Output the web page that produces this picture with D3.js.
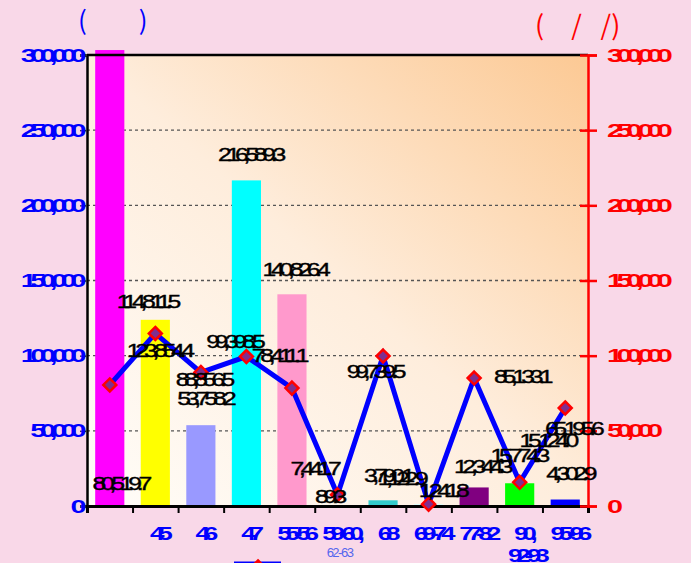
<!DOCTYPE html>
<html>
<head>
<meta charset="utf-8">
<script src="https://cdn.jsdelivr.net/npm/d3@7"></script>
<style>
  html, body { margin: 0; padding: 0; background: #f9d8e8; }
  svg { display: block; }
</style>
</head>
<body>
<svg id="chart" width="691" height="563"></svg>
<script>
// ---- data ----
const categories = ["", "45", "46", "47", "55-56", "59-60,", "68", "69-74", "77-82", "90,", "95-96"];
const categorySubLabels = ["", "", "", "", "", "62-63", "", "", "", "92-93", ""];
const barValues = [303300, 123854.4, 53758.2, 216589.3, 140826.4, 89.3, 3790.1, 1122.9, 12344.3, 15124.0, 4302.9];
const lineValues = [80519.7, 114811.5, 88856.5, 99398.5, 78411.1, 7441.7, 99739.5, 1241.8, 85133.1, 15774.3, 65195.6];
const barColors = ["#ff00ff", "#ffff00", "#9999ff", "#00ffff", "#ff99cc", "#993366", "#33cccc", "#ccffff", "#800080", "#00ff00", "#0000ff"];
const yTickValues = [0, 50000, 100000, 150000, 200000, 250000, 300000];
const leftTitle = "(\u3000\u3000)";
const rightTitle = "(\u3000/\u2002\u2009/)";

// label placement relative to each mark (dx, dy to text baseline); null = no label
const barLabelOffsets = [null, [3, 37], [3.5, -20], [3, -19], [2, -18], [-9, -3], [4, -18], [-28, -19], [7, -14], [27, -36], [4, -20]];
const lineLabelOffsets = [[10, 105], [-9, -25], [2, 14], [-13, -8.5], [-14, -26], [-24, -20], [-9, 22], [13, -7], [47, 5], [-2, -20], [7, 27]];

// ---- layout ----
const plot = { left: 87, right: 588, top: 55, bottom: 506 };
const svg = d3.select("#chart");

const idx = d3.range(categories.length);
const x = d3.scaleBand().domain(idx).range([plot.left, plot.right]).padding(0);
const xEdges = d3.scaleLinear().domain([0, categories.length]).range([plot.left, plot.right]);
const y = d3.scaleLinear().domain([0, 300000]).range([plot.bottom, plot.top]);
const yRight = d3.scaleLinear().domain([0, 300000]).range([plot.bottom, plot.top]);
const cx = i => x(i) + x.bandwidth() / 2;
const fmt = d3.format(",.1f");

// condensed, overlapping digits
function squeezed(g, txt, px, py, o) {
  return g.append("text")
    .attr("transform", `translate(${px},${py}) scale(${o.sx},1)`)
    .attr("text-anchor", o.anchor || "middle")
    .attr("font-family", "Liberation Sans, Arial, sans-serif")
    .attr("font-size", o.size)
    .attr("font-weight", o.weight || "normal")
    .attr("letter-spacing", o.ls)
    .attr("fill", o.fill)
    .text(txt);
}

// ---- plot background ----
const defs = svg.append("defs");
const grad = defs.append("linearGradient").attr("id", "plotBg")
  .attr("x1", 0).attr("y1", 1).attr("x2", 1).attr("y2", 0);
grad.append("stop").attr("offset", "0%").attr("stop-color", "#fffdf9");
grad.append("stop").attr("offset", "50%").attr("stop-color", "#feeddc");
grad.append("stop").attr("offset", "100%").attr("stop-color", "#fcc994");

svg.append("rect")
  .attr("x", plot.left).attr("y", plot.top)
  .attr("width", plot.right - plot.left).attr("height", plot.bottom - plot.top)
  .attr("fill", "url(#plotBg)");

// ---- gridlines ----
svg.append("g").selectAll("line")
  .data(yTickValues.filter(v => v > 0 && v < 300000))
  .join("line")
  .attr("x1", plot.left).attr("x2", plot.right)
  .attr("y1", d => y(d)).attr("y2", d => y(d))
  .attr("stroke", "#555").attr("stroke-width", 1.3)
  .attr("stroke-dasharray", "3,3");

// ---- bars ----
const barW = x.bandwidth() * 0.64;
svg.append("g").selectAll("rect")
  .data(barValues)
  .join("rect")
  .attr("x", (d, i) => cx(i) - barW / 2)
  .attr("width", barW)
  .attr("y", d => y(d))
  .attr("height", d => y(0) - y(d))
  .attr("fill", (d, i) => barColors[i]);

// ---- frame and axes ----
svg.append("line")
  .attr("x1", plot.left).attr("x2", plot.right)
  .attr("y1", plot.top).attr("y2", plot.top)
  .attr("stroke", "#000").attr("stroke-width", 2.5);

const axisText = { sx: 1.6, size: 18, weight: "bold", ls: -4 };

// left axis
const axL = svg.append("g").attr("transform", `translate(${plot.left},0)`)
  .call(d3.axisLeft(y).tickValues(yTickValues).tickSize(7).tickFormat(""));
axL.select(".domain").attr("stroke", "#000").attr("stroke-width", 2.5);
axL.selectAll(".tick line").attr("stroke", "#333").attr("stroke-width", 1.5);
yTickValues.forEach(v => {
  squeezed(svg, d3.format(",")(v), 80, y(v) + 6.5,
    Object.assign({ fill: "#0000ff", anchor: "end" }, axisText));
});

// bottom axis (ticks at category boundaries)
const axB = svg.append("g").attr("transform", `translate(0,${plot.bottom})`)
  .call(d3.axisBottom(xEdges).ticks(categories.length).tickSize(7).tickFormat(""));
axB.select(".domain").attr("stroke", "#000").attr("stroke-width", 3);
axB.selectAll(".tick line").attr("stroke", "#000").attr("stroke-width", 2);

// right axis
const axR = svg.append("g").attr("transform", `translate(${plot.right},0)`)
  .call(d3.axisRight(yRight).tickValues(yTickValues).tickSize(9).tickFormat(""));
axR.select(".domain").attr("stroke", "#ff0000").attr("stroke-width", 2.5);
axR.selectAll(".tick line").attr("x1", -8).attr("stroke", "#ff0000").attr("stroke-width", 2.5);
yTickValues.forEach(v => {
  squeezed(svg, d3.format(",")(v), 607, yRight(v) + 6.5,
    Object.assign({ fill: "#ff0000", anchor: "start" }, axisText));
});

// category labels
const catText = { sx: 1.45, size: 18, weight: "bold", ls: -4.3, fill: "#0000ff" };
categories.forEach((c, i) => {
  if (c) squeezed(svg, c, cx(i) + 3, 540, catText);
});
categorySubLabels.forEach((c, i) => {
  if (!c) return;
  if (i === 5) {
    squeezed(svg, c, cx(i) + 2, 557,
      { sx: 1.0, size: 13, weight: "normal", ls: -1.5, fill: "#5566ee" });
  } else {
    squeezed(svg, c, cx(i) + 6, 562, catText);
  }
});

// ---- line series ----
svg.append("path")
  .datum(lineValues)
  .attr("d", d3.line().x((d, i) => cx(i)).y(d => y(d)))
  .attr("fill", "none")
  .attr("stroke", "#0000ff")
  .attr("stroke-width", 5)
  .attr("stroke-linejoin", "miter");

const diamond = "M0,-6.5L6.5,0L0,6.5L-6.5,0Z";
svg.append("g").selectAll("path")
  .data(lineValues)
  .join("path")
  .attr("d", diamond)
  .attr("transform", (d, i) => `translate(${cx(i)},${y(d)})`)
  .attr("fill", "#7f2f8f")
  .attr("stroke", "#ff0000")
  .attr("stroke-width", 2.5);

// ---- value labels ----
const labelStyle = { sx: 1.3, size: 19, weight: "normal", ls: -4, fill: "#000" };
barValues.forEach((v, i) => {
  const o = barLabelOffsets[i];
  if (o) squeezed(svg, fmt(v), cx(i) + o[0], y(v) + o[1], labelStyle)
    .attr("stroke", "#000").attr("stroke-width", 0.4);
});
lineValues.forEach((v, i) => {
  const o = lineLabelOffsets[i];
  if (o) squeezed(svg, fmt(v), cx(i) + o[0], y(v) + o[1], labelStyle)
    .attr("stroke", "#000").attr("stroke-width", 0.4);
});

// ---- axis titles ----
svg.append("text").attr("x", 78).attr("y", 30)
  .attr("font-family", "Noto Sans CJK SC, Liberation Sans, sans-serif")
  .attr("font-size", 26).attr("fill", "#0000ff").text(leftTitle);
svg.append("text").attr("x", 535).attr("y", 35)
  .attr("font-family", "Noto Sans CJK SC, Liberation Sans, sans-serif")
  .attr("font-size", 27).attr("fill", "#ff0000").text(rightTitle);

// ---- legend (line entry, at the lower edge) ----
const lg = svg.append("g");
lg.append("line").attr("x1", 234).attr("x2", 281).attr("y1", 564).attr("y2", 564)
  .attr("stroke", "#0000ff").attr("stroke-width", 5);
lg.append("path").attr("d", diamond).attr("transform", "translate(258,567)")
  .attr("fill", "#7f2f8f").attr("stroke", "#ff0000").attr("stroke-width", 2.5);
</script>
</body>
</html>
